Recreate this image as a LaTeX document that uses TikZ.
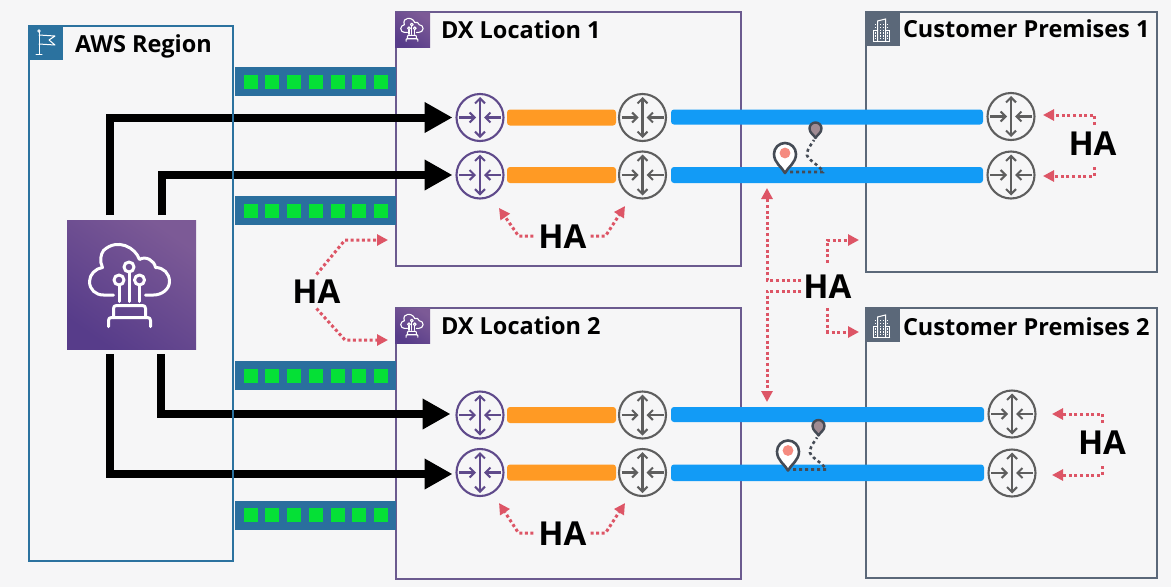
\documentclass[tikz,border=0pt]{standalone}
\usepackage{fontspec}
\setmainfont{Open Sans}
\usetikzlibrary{arrows.meta,calc,shadings}
\definecolor{bgc}{HTML}{F6F6F7}
\definecolor{awsblue}{HTML}{2B729F}
\definecolor{dxpurple}{HTML}{6B5A8F}
\definecolor{custgray}{HTML}{5B6879}
\definecolor{routerpurple}{HTML}{5F4A8B}
\definecolor{routergray}{HTML}{5E5E5E}
\definecolor{stripblue}{HTML}{2A6F9E}
\definecolor{ledgreen}{HTML}{05E036}
\definecolor{barorange}{HTML}{FF9A24}
\definecolor{barblue}{HTML}{129BF6}
\definecolor{hared}{HTML}{DD5566}
\definecolor{pindark}{HTML}{454B55}
\definecolor{pinpink}{HTML}{F58B80}
\definecolor{pinmauve}{HTML}{A08B93}
\definecolor{icondark}{HTML}{573C8A}
\definecolor{iconlight}{HTML}{7C5A96}
\tikzset{
  x=1pt,y=-1pt,
  zone/.style={draw=#1,line width=2.7,rectangle,anchor=north west,inner sep=0,outer sep=0},
  tag/.style={rectangle,anchor=north west,inner sep=0,outer sep=0,minimum size=34,fill=#1},
  purpletag/.style={rectangle,anchor=north west,inner sep=0,outer sep=0,minimum size=#1,
     left color=iconlight,right color=icondark,shading angle=-35},
  zonetext/.style={anchor=base west,inner sep=0,outer sep=0,font=\fontsize{23.5}{24}\selectfont\bfseries,text=black},
  halabel/.style={inner sep=0,outer sep=0,font=\fontsize{33}{33}\selectfont\bfseries,text=black,text height=24,text depth=0,anchor=center},
  routerc/.style={circle,draw=#1,line width=2.1,minimum size=47,inner sep=0,outer sep=0},
  routerarrow/.style={draw=#1,line width=2.1,{Straight Barb[length=5,width=10]}-{Straight Barb[length=5,width=10]}},
  routerin/.style={draw=#1,line width=2.1,-{Straight Barb[length=5,width=10]}},
  strip/.style={rectangle,fill=stripblue,anchor=north west,minimum width=161,minimum height=29,inner sep=0,outer sep=0},
  led/.style={fill=ledgreen,rectangle,minimum size=14,inner sep=0,outer sep=0},
  fatbar/.style={fill=barorange,draw=none,rounded corners=3,
     to path={($(\tikztostart)+(3.5,-8)$) rectangle ($(\tikztotarget)+(-3,8)$)}},
  fatbarblue/.style={fill=barblue,draw=none,rounded corners=3,
     to path={($(\tikztostart)+(5,-8)$) rectangle ($(\tikztotarget)+(-4.5,8)$)}},
  heavy/.style={draw=black,line width=8,shorten >=4,-{Triangle[length=28,width=29]}},
  haline/.style={draw=hared,line width=3,dash pattern=on 3pt off 2.6pt,-{Triangle[length=11,width=11]}},
  iconline/.style={draw=white,line width=#1,line cap=round,line join=round,fill=none},
  pinpair/.pic={
    \draw[pindark,line width=2.6,dash pattern=on 3pt off 3pt] (5,-1) -- (38,-1)
       .. controls (35,-8) and (20,-14) .. (22,-20) .. controls (23,-25) and (26,-28) .. (29,-33);
    \draw[pindark,line width=2.6,fill=white,line join=round] (0,0) .. controls (-3,-6) and (-11,-10) .. (-11,-19)
       arc[start angle=180,end angle=360,radius=11] .. controls (11,-10) and (3,-6) .. (0,0) -- cycle;
    \fill[pinpink] (0,-20) circle[radius=5.4];
    \draw[pindark,line width=2.4,fill=pinmauve,line join=round] (30.5,-35) .. controls (29,-38) and (24.5,-40) .. (24.5,-44.5)
       arc[start angle=180,end angle=360,radius=6] .. controls (36.5,-40) and (32,-38) .. (30.5,-35) -- cycle;
  },
  cloudicon/.pic={
    \draw[iconline=#1] (14,10.5) -- (22,10.5) .. controls (30,10.5) and (38,5) .. (38,-3)
       .. controls (38,-11) and (32,-17) .. (24,-17) .. controls (23,-24) and (14,-29) .. (8,-25)
       .. controls (4,-37) and (-14,-47) .. (-28,-34) .. controls (-31,-30) and (-32,-23) .. (-29,-17)
       .. controls (-36,-16) and (-42,-10) .. (-42,-3) .. controls (-42,5) and (-36,10.5) .. (-28,10.5) -- (-18,10.5);
    \draw[iconline=#1] (-2.5,-17.5) circle[radius=5];
    \draw[iconline=#1] (-12.5,-4.5) circle[radius=5];
    \draw[iconline=#1] (8,-4.5) circle[radius=5];
    \draw[iconline=#1] (-2.5,-12) -- (-2.5,17);
    \draw[iconline=#1] (-12.5,1) -- (-12.5,17);
    \draw[iconline=#1] (8,1) -- (8,17);
    \draw[iconline=#1] (-18,33) -- (-18,24) .. controls (-18,22) and (-17,21) .. (-15,21) -- (11,21)
       .. controls (13,21) and (14,22) .. (14,24) -- (14,33);
    \draw[iconline=#1] (-23,42) -- (-23,36) .. controls (-23,34) and (-22,33) .. (-20,33) -- (16,33)
       .. controls (18,33) and (19,34) .. (19,36) -- (19,42);
  },
  flagicon/.pic={
    \draw[iconline=1] (10,6) -- (10,28) (7,28) -- (13,28);
    \draw[iconline=1] (10,9) -- (26,10) -- (20,14) -- (26,19) -- (10,18);
    \draw[iconline=0.9] (10,5) circle[radius=1.2];
  },
  buildingicon/.pic={
    \draw[iconline=1,line cap=butt,line join=miter] (8,18) rectangle (24,29) ;
    \draw[iconline=1,line cap=butt,line join=miter,fill=custgray] (12,29) -- (12,9) -- (20,7) -- (20,29);
    \draw[iconline=1] (8,29) -- (24,29);
    \foreach \vx in {10,14.5,17.5,22}{
      \draw[white,line width=0.9,dash pattern=on 1.4pt off 1.4pt] (\vx,12) -- (\vx,28);}
  },
}
\newcommand{\routerat}[4]{%
  \node[routerc=#4] (#1) at (#2,#3) {};
  \begin{scope}[shift={(#1)}]
    \draw[routerarrow=#4] (0,-20.5) -- (0,20.5);
    \draw[routerin=#4] (-21,0) -- (-4,0);
    \draw[routerin=#4] (21,0) -- (4,0);
  \end{scope}}
\newcommand{\ledsin}[1]{%
  \foreach \lx in {9,30.5,52,74,96,117,139}{
    \node[led] at ($(#1.west)+(\lx+7,0)$) {};}}
\begin{document}
\begin{tikzpicture}
\useasboundingbox (0,0) rectangle (1171,587);
\fill[bgc] (0,0) rectangle (1171,587);

% DX and customer zones
\node[zone=dxpurple,minimum width=345,minimum height=254] (dx1) at (396,12) {};
\node[zone=dxpurple,minimum width=345,minimum height=271] (dx2) at (396,308) {};
\node[zone=custgray,minimum width=291,minimum height=260] (cp1) at (866,12) {};
\node[zone=custgray,minimum width=291,minimum height=270] (cp2) at (866,308) {};

% tags
\node[purpletag=35] (dx1tag) at (395,12) {};
\node[purpletag=35] (dx2tag) at (395,308) {};
\node[tag=custgray] (cp1tag) at (865.5,12) {};
\node[tag=custgray] (cp2tag) at (865.5,308) {};
\pic at (dx1tag.center) [scale=0.28] {cloudicon=1.1};
\pic at (dx2tag.center) [scale=0.28] {cloudicon=1.1};
\pic at (cp1tag.north west) {buildingicon};
\pic at (cp2tag.north west) {buildingicon};

% labels
\node[zonetext] (l2) at (441,38.5) {DX Location 1};
\node[zonetext] (l3) at (441,334.5) {DX Location 2};
\node[zonetext] (l4) at (903,37.7) {Customer Premises 1};
\node[zonetext] (l5) at (903,335.7) {Customer Premises 2};

% strips
\node[strip] (s1) at (234.5,67) {};
\node[strip] (s2) at (234.5,196) {};
\node[strip] (s3) at (234.5,361) {};
\node[strip] (s4) at (234.5,500.7) {};
\ledsin{s1}\ledsin{s2}\ledsin{s3}\ledsin{s4}

% routers
\routerat{a1}{480}{117.5}{routerpurple}
\routerat{a2}{480}{175}{routerpurple}
\routerat{b1}{642.5}{117.5}{routergray}
\routerat{b2}{642.5}{175}{routergray}
\routerat{c1}{1011}{116.5}{routergray}
\routerat{c2}{1011}{175}{routergray}
\routerat{d1}{480}{415}{routerpurple}
\routerat{d2}{480}{472.5}{routerpurple}
\routerat{e1}{642.5}{415}{routergray}
\routerat{e2}{642.5}{472.5}{routergray}
\routerat{f1}{1012}{414}{routergray}
\routerat{f2}{1012}{473}{routergray}

% bars
\foreach \p/\q in {a1/b1,a2/b2,d1/e1,d2/e2}{
  \path[fatbar] (\p.east) to (\q.west);}
\foreach \p/\q in {b1/c1,b2/c2,e1/f1,e2/f2}{
  \path[fatbarblue] (\p.east) to (\q.west);}

% central icon and heavy arrows
\node[purpletag=129] (icon) at (67,220) {};
\pic at (icon.center) {cloudicon=3};
\draw[heavy] ($(icon.north)+(-21.5,-5)$) |- (a1.west);
\draw[heavy] ($(icon.north)+(30.5,-5)$) |- (a2.west);
\draw[heavy] ($(icon.south)+(29.2,5)$) |- ($(d1.west)+(-2,-1)$);
\draw[heavy] ($(icon.south)+(-21.5,5)$) |- ($(d2.west)+(0,1.5)$);

% AWS region above the heavy arrows
\node[zone=awsblue,minimum width=204,minimum height=535] (aws) at (29,26) {};
\node[tag=awsblue] (awstag) at (29,26) {};
\pic at (awstag.north west) {flagicon};
\node[zonetext] (l1) at (75,52.5) {AWS Region};

% pins
\pic at (785,173) {pinpair};
\pic at (788,470.5) {pinpair};

% HA labels
\node[halabel] (ha1) at (562.5,236) {HA};
\node[halabel] (ha2) at (562.5,533) {HA};
\node[halabel] (ha3) at (316.5,291.5) {HA};
\node[halabel] (ha4) at (827.5,286) {HA};
\node[halabel] (ha5) at (1092.5,143) {HA};
\node[halabel] (ha6) at (1102,442) {HA};

% HA connectors
\coordinate (t1) at (499,208); \coordinate (t2) at (625,206);
\coordinate (t3) at (499,503); \coordinate (t4) at (625,503);
\coordinate (t5) at (388,240); \coordinate (t6) at (388,340);
\coordinate (t7) at (767,188); \coordinate (t8) at (767,402);
\coordinate (t9) at (859,240); \coordinate (t10) at (859,332);
\coordinate (t11) at (1043,115); \coordinate (t12) at (1043,176);
\coordinate (t13) at (1052,414); \coordinate (t14) at (1052,475);

\draw[haline] (ha1.west) ++(-5,0) -- ++(-15,0) -- (t1);
\draw[haline] (ha1.east) ++(4,0) -- ++(15,0) -- (t2);
\draw[haline] (ha2.west) ++(-5,0) -- ++(-15,0) -- (t3);
\draw[haline] (ha2.east) ++(4,0) -- ++(15,0) -- (t4);
\draw[haline] (ha3.north) ++(0,-5) -- (345,240) -- (t5);
\draw[haline] (ha3.south) ++(0,5) -- (345,340) -- (t6);
\draw[haline] ($(ha4.west)+(-2,-6)$) -| (t7);
\draw[haline] ($(ha4.west)+(-2,5)$) -| (t8);
\draw[haline] ($(ha4.north)+(0,-11)$) |- (t9);
\draw[haline] ($(ha4.south)+(0,10)$) |- (t10);
\draw[haline] ($(ha5.north)+(1.5,-6)$) |- (t11);
\draw[haline] ($(ha5.south)+(1.5,12)$) |- (t12);
\draw[haline] ($(ha6.north)+(0,-7)$) |- (t13);
\draw[haline] ($(ha6.south)+(0,12)$) |- (t14);
\end{tikzpicture}
\end{document}
